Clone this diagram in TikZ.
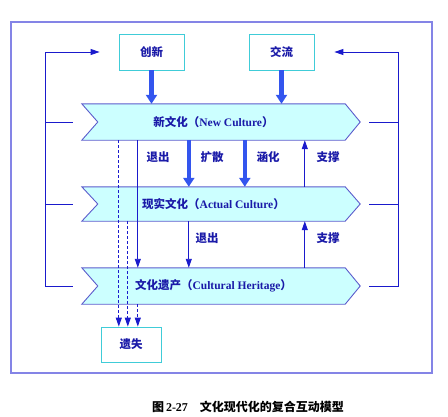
\documentclass[tikz,border=0pt]{standalone}
\usepackage{fontspec}
\setmainfont{Liberation Serif}
\newfontfamily\cjk{Noto Sans CJK SC}
\usetikzlibrary{arrows.meta,backgrounds,calc}
\definecolor{framec}{HTML}{8484E6}
\definecolor{chevb}{HTML}{5C5CCC}
\definecolor{chevf}{HTML}{CCFFFF}
\definecolor{thickc}{HTML}{3355EE}
\definecolor{thinc}{HTML}{1A1ACC}
\definecolor{txtc}{HTML}{1A1AA8}
\definecolor{boxc}{HTML}{40CCD8}
\begin{document}
\begin{tikzpicture}[x=1pt,y=-1pt,
  txt/.style={text=txtc,font=\fontsize{11.5}{14}\selectfont\bfseries},
  topbox/.style={draw=boxc,line width=0.8pt,fill=white,minimum width=65pt,minimum height=36pt,inner sep=0pt,txt},
  chev/.style={minimum width=263pt,inner sep=0pt,txt},
  chevshape/.style={draw=chevb,fill=chevf,line width=0.9pt,line join=miter},
  thickarr/.style={draw=thickc,line width=4.5pt,-{Triangle[width=11pt,length=9pt]}},
  thinarr/.style={draw=thinc,line width=0.9pt,-{Triangle[width=6pt,length=9pt]}},
  dasharr/.style={draw=thinc,line width=0.9pt,dash pattern=on 3pt off 2pt,-{Triangle[width=6pt,length=9pt]}},
  fb/.style={draw=thinc,line width=0.9pt},
  lbl/.style={txt}]
\useasboundingbox (0,0) rectangle (448,416);
% outer frame
\draw[framec,line width=1.4pt] (11,22) rectangle (432,373);
% top boxes
\node[topbox] (cx) at (151.5,52) {\cjk 创新};
\node[topbox] (jl) at (281.5,52) {\cjk 交流};
% chevrons
\node[chev,minimum height=36pt] (nc) at (213.5,122) {{\cjk 新文化（}New Culture{\cjk ）}};
\node[chev,minimum height=34pt] (ac) at (213.5,204) {{\cjk 现实文化（}Actual Culture{\cjk ）}};
\node[chev,minimum height=36pt] (ch) at (213.5,286) {{\cjk 文化遗产（}Cultural Heritage{\cjk ）}};
\begin{scope}[on background layer]
\foreach \n in {nc,ac,ch}{
  \draw[chevshape] (\n.north west) -- (\n.north east) -- ([xshift=15pt]\n.east)
    -- (\n.south east) -- (\n.south west) -- ([xshift=16pt]\n.west) -- cycle;
}
\end{scope}
% lost box
\node[topbox,minimum width=60pt,minimum height=35pt] (ys) at (131,344.5) {\cjk 遗失};
% thick arrows
\draw[thickarr] (cx.south) -- (cx.south |- nc.north);
\draw[thickarr] (jl.south) -- (jl.south |- nc.north);
\coordinate (k1) at ([xshift=107pt]nc.south west);
\coordinate (h1) at ([xshift=163pt]nc.south west);
\draw[thickarr] (k1) -- (k1 |- ac.north);
\draw[thickarr] (h1) -- (h1 |- ac.north);
% support arrows
\coordinate (s1) at ([xshift=223pt]ac.north west);
\coordinate (s2) at ([xshift=223pt]ch.north west);
\draw[thinarr] (s1) -- (s1 |- nc.south);
\draw[thinarr] (s2) -- (s2 |- ac.south);
% exit arrows
\coordinate (t1) at ([xshift=56pt]nc.south west);
\draw[thinarr] (t1) -- (t1 |- ch.north);
\coordinate (t2) at ([xshift=107pt]ac.south west);
\draw[thinarr] (t2) -- (t2 |- ch.north);
% dashed to lost
\coordinate (d1) at ([xshift=37pt]nc.south west);
\coordinate (d2) at ([xshift=46pt]ac.south west);
\coordinate (d3) at ([xshift=56pt]ch.south west);
\draw[dasharr] (d1) -- (d1 |- ys.north);
\draw[dasharr] (d2) -- (d2 |- ys.north);
\draw[dasharr] (d3) -- (d3 |- ys.north);
% left feedback
\coordinate (lb) at (45,286);
\coordinate (lt) at (45,52);
\draw[fb,-{Triangle[width=6pt,length=9pt]}] ([xshift=-9pt]ch.west) -- (lb) -- (lt) -- ([xshift=-19pt]cx.west);
\draw[fb] ([xshift=-9pt]nc.west) -- (nc.west -| lb);
\draw[fb] ([xshift=-9pt]ac.west) -- (ac.west -| lb);
% right feedback
\coordinate (rb) at (398,286);
\coordinate (rt) at (398,52);
\draw[fb,-{Triangle[width=6pt,length=9pt]}] ([xshift=24pt]ch.east) -- (rb) -- (rt) -- ([xshift=20pt]jl.east);
\draw[fb] ([xshift=24pt]nc.east) -- (nc.east -| rb);
\draw[fb] ([xshift=24pt]ac.east) -- (ac.east -| rb);
% labels
\node[lbl] (l1) at (158,157) {\cjk 退出};
\node[lbl] (l2) at (212,157) {\cjk 扩散};
\node[lbl] (l3) at (268,157) {\cjk 涵化};
\node[lbl] (l4) at (328,157) {\cjk 支撑};
\node[lbl] (l5) at (207,238) {\cjk 退出};
\node[lbl] (l6) at (328,238) {\cjk 支撑};
% caption
\node[font=\fontsize{12}{14}\selectfont\bfseries] (cap) at (248,407) {{\cjk 图}\,2-27\hspace{1em}{\cjk 文化现代化的复合互动模型}};
\end{tikzpicture}
\end{document}
